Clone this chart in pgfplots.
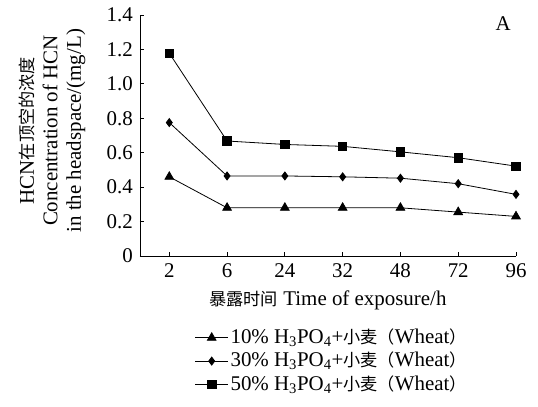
\documentclass[border=0pt]{standalone}
\usepackage{fontspec}
\setmainfont{Liberation Serif}
\newfontfamily\cjk[Scale=0.82]{Noto Sans CJK SC}
\usepackage{pgfplots}
\pgfplotsset{compat=1.18}
\begin{document}
\fontsize{21}{24}\selectfont
\begin{tikzpicture}
\begin{axis}[
  at={(0,0)}, anchor=south west,
  scale only axis, width=376bp, height=241bp,
  xmin=-0.507, xmax=6, ymin=0, ymax=1.4,
  axis x line*=bottom, axis y line*=left,
  xtick={0,1,2,3,4,5,6}, xticklabels={2,6,24,32,48,72,96},
  ytick={0,0.2,0.4,0.6,0.8,1.0,1.2,1.4},
  yticklabels={0,0.2,0.4,0.6,0.8,1.0,1.2,1.4},
  tick align=inside, major tick length=4bp,
  tick style={black, line width=0.8bp},
  axis line style={black, line width=0.9bp},
  ticklabel style={font=\fontsize{21}{24}\selectfont},
  xlabel={{\cjk 暴露时间} Time of exposure/h},
  xlabel style={at={(axis description cs:0.5,-0.183)}, anchor=center, font=\fontsize{21}{24}\selectfont},
  ylabel={HCN{\cjk 在顶空的浓度}\\Concentration of HCN\\in the headspace/(mg/L)},
  ylabel style={at={(axis description cs:-0.233,0.52)}, anchor=center, align=center, font=\fontsize{21}{23.5}\selectfont},
  legend style={at={(0.51,-0.285)}, anchor=north, draw=none, fill=none, font=\fontsize{21}{23}\selectfont, row sep=1.5bp, cells={anchor=west}},
  legend image code/.code={\draw[mark repeat=2,mark phase=2] plot coordinates {(0cm,0cm)(0.58cm,0cm)(1.16cm,0cm)};},
  every axis plot/.append style={black, line width=0.8bp, mark options={solid, fill=black}},
]
\addplot[mark=triangle*, mark size=5bp] coordinates {(0,0.46)(1,0.28)(2,0.28)(3,0.28)(4,0.28)(5,0.255)(6,0.23)};
\addlegendentry{10\% H\textsubscript{3}PO\textsubscript{4}+{\cjk 小麦（}Wheat{\cjk ）}}
\addplot[mark=diamond*, mark size=4bp] coordinates {(0,0.775)(1,0.465)(2,0.465)(3,0.46)(4,0.452)(5,0.42)(6,0.358)};
\addlegendentry{30\% H\textsubscript{3}PO\textsubscript{4}+{\cjk 小麦（}Wheat{\cjk ）}}
\addplot[mark=square*, mark size=4.2bp] coordinates {(0,1.178)(1,0.668)(2,0.648)(3,0.637)(4,0.605)(5,0.571)(6,0.522)};
\addlegendentry{50\% H\textsubscript{3}PO\textsubscript{4}+{\cjk 小麦（}Wheat{\cjk ）}}
\node[font=\fontsize{21}{24}\selectfont] at (rel axis cs:0.966,0.965) {A};
\end{axis}
\pgfresetboundingbox
\path[use as bounding box] (-140bp,-151bp) rectangle (398bp,256bp);
\end{tikzpicture}
\end{document}
